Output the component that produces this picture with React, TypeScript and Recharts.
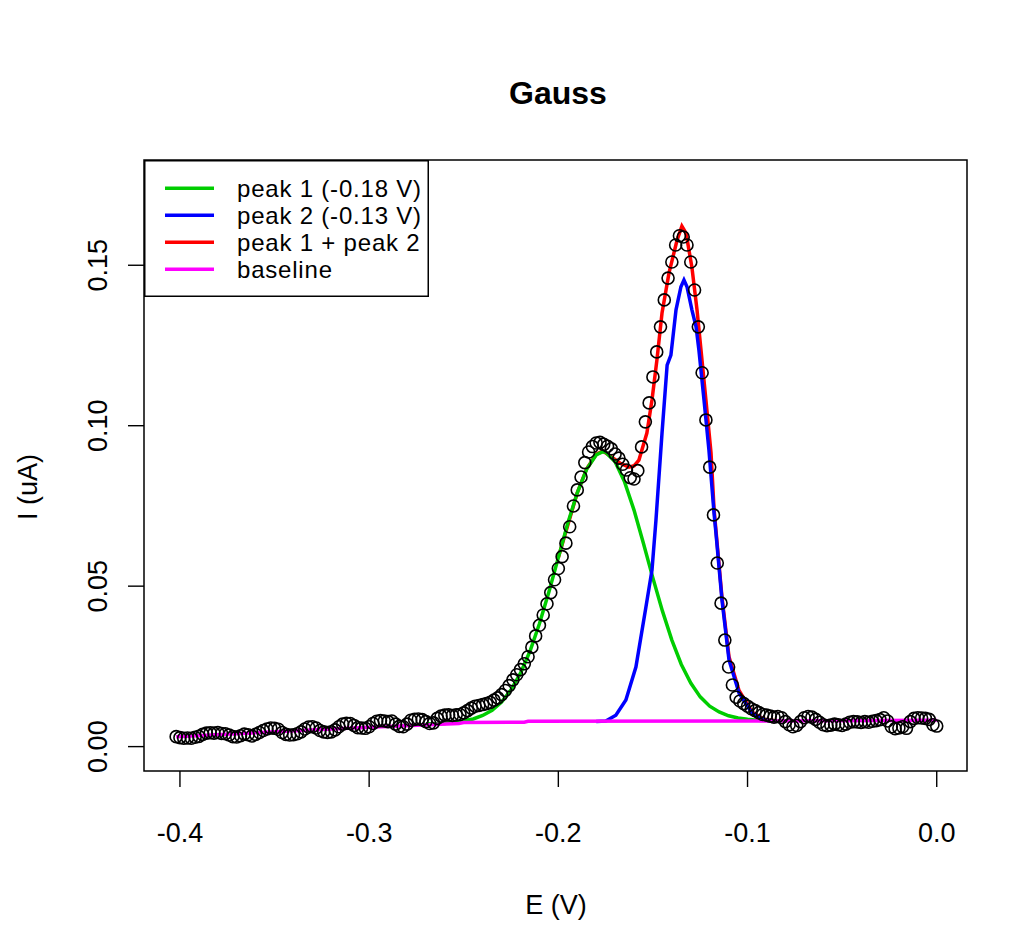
import React from "react";
import {
  ComposedChart,
  Scatter,
  Line,
  XAxis,
  YAxis,
  Legend,
  ReferenceArea,
} from "recharts";

// measured potentials (V), one point every 2 mV
const E_OBS = [
  -0.402, -0.4, -0.398, -0.396, -0.394, -0.392, -0.39, -0.388, -0.386, -0.384,
  -0.382, -0.38, -0.378, -0.376, -0.374, -0.372, -0.37, -0.368, -0.366, -0.364,
  -0.362, -0.36, -0.358, -0.356, -0.354, -0.352, -0.35, -0.348, -0.346, -0.344,
  -0.342, -0.34, -0.338, -0.336, -0.334, -0.332, -0.33, -0.328, -0.326, -0.324,
  -0.322, -0.32, -0.318, -0.316, -0.314, -0.312, -0.31, -0.308, -0.306, -0.304,
  -0.302, -0.3, -0.298, -0.296, -0.294, -0.292, -0.29, -0.288, -0.286, -0.284,
  -0.282, -0.28, -0.278, -0.276, -0.274, -0.272, -0.27, -0.268, -0.266, -0.264,
  -0.262, -0.26, -0.258, -0.256, -0.254, -0.252, -0.25, -0.248, -0.246, -0.244,
  -0.242, -0.24, -0.238, -0.236, -0.234, -0.232, -0.23, -0.228, -0.226, -0.224,
  -0.222, -0.22, -0.218, -0.216, -0.214, -0.212, -0.21, -0.208, -0.206, -0.204,
  -0.202, -0.2, -0.198, -0.196, -0.194, -0.192, -0.19, -0.188, -0.186, -0.184,
  -0.182, -0.18, -0.178, -0.176, -0.174, -0.172, -0.17, -0.168, -0.166, -0.164,
  -0.162, -0.16, -0.158, -0.156, -0.154, -0.152, -0.15, -0.148, -0.146, -0.144,
  -0.142, -0.14, -0.138, -0.136, -0.134, -0.132, -0.13, -0.128, -0.126, -0.124,
  -0.122, -0.12, -0.118, -0.116, -0.114, -0.112, -0.11, -0.108, -0.106, -0.104,
  -0.102, -0.1, -0.098, -0.096, -0.094, -0.092, -0.09, -0.088, -0.086, -0.084,
  -0.082, -0.08, -0.078, -0.076, -0.074, -0.072, -0.07, -0.068, -0.066, -0.064,
  -0.062, -0.06, -0.058, -0.056, -0.054, -0.052, -0.05, -0.048, -0.046, -0.044,
  -0.042, -0.04, -0.038, -0.036, -0.034, -0.032, -0.03, -0.028, -0.026, -0.024,
  -0.022, -0.02, -0.018, -0.016, -0.014, -0.012, -0.01, -0.008, -0.006, -0.004,
  -0.002, 0.0,
];

// measured current (uA)
const I_OBS = [
  0.0031, 0.0028, 0.0026, 0.0027, 0.0026, 0.0029, 0.0032, 0.0038, 0.0042, 0.0043,
  0.0042, 0.0044, 0.0041, 0.004, 0.0036, 0.0031, 0.003, 0.0034, 0.0039, 0.0037,
  0.0033, 0.0038, 0.0044, 0.005, 0.0055, 0.0058, 0.0057, 0.0054, 0.0044, 0.0038,
  0.0036, 0.0037, 0.004, 0.0046, 0.0055, 0.0061, 0.0062, 0.0058, 0.005, 0.0046,
  0.0044, 0.0046, 0.0052, 0.0062, 0.007, 0.0073, 0.0072, 0.0066, 0.0059, 0.0058,
  0.0057, 0.0062, 0.0072, 0.0079, 0.0081, 0.008, 0.0078, 0.008, 0.007, 0.0063,
  0.0062, 0.007, 0.0082, 0.0085, 0.0086, 0.0084, 0.0078, 0.0072, 0.0074, 0.0088,
  0.0095, 0.0098, 0.0099, 0.0097, 0.0099, 0.01, 0.0105, 0.0112, 0.012, 0.0126,
  0.0128, 0.0131, 0.0134, 0.0138, 0.0145, 0.0152, 0.0162, 0.0175, 0.019, 0.0208,
  0.0224, 0.024, 0.0258, 0.028, 0.031, 0.0345, 0.0378, 0.041, 0.0445, 0.048,
  0.052, 0.0555, 0.0592, 0.0634, 0.0685, 0.075, 0.08, 0.084, 0.0885, 0.0918,
  0.0935, 0.0946, 0.0948, 0.0942, 0.0936, 0.0928, 0.0912, 0.0899, 0.088, 0.0862,
  0.0838, 0.0834, 0.086, 0.0934, 0.1012, 0.1071, 0.1152, 0.123, 0.1308, 0.1392,
  0.146, 0.151, 0.1563, 0.1592, 0.1588, 0.1563, 0.151, 0.1423, 0.1308, 0.1165,
  0.1018, 0.0871, 0.0722, 0.0572, 0.0447, 0.0332, 0.0248, 0.0192, 0.0154, 0.0142,
  0.0134, 0.0126, 0.0118, 0.0112, 0.0106, 0.01, 0.0098, 0.0095, 0.0092, 0.0094,
  0.009, 0.0078, 0.0068, 0.0062, 0.0066, 0.0078, 0.009, 0.0094, 0.0092, 0.0085,
  0.0076, 0.0068, 0.0065, 0.0067, 0.007, 0.0068, 0.0066, 0.007, 0.0076, 0.0078,
  0.0077, 0.0075, 0.0078, 0.0076, 0.0079, 0.0081, 0.0084, 0.009, 0.008, 0.0062,
  0.0056, 0.0058, 0.0062, 0.0057, 0.0078, 0.0088, 0.009, 0.0089, 0.0088, 0.0085,
  0.0068, 0.0064,
];

// fitted peak 1 (on baseline)
const PEAK1_E = [
  -0.27, -0.26, -0.25, -0.245, -0.24, -0.235, -0.23, -0.225, -0.22, -0.215,
  -0.21, -0.205, -0.2, -0.195, -0.19, -0.185, -0.18, -0.1765, -0.175, -0.17,
  -0.165, -0.16, -0.155, -0.15, -0.145, -0.14, -0.135, -0.13, -0.125, -0.12,
  -0.115, -0.11, -0.105, -0.1, -0.095, -0.09, -0.08,
];
const PEAK1_I = [
  0.0071, 0.0072, 0.0081, 0.0086, 0.0097, 0.0113, 0.0139, 0.0177, 0.0229, 0.0297,
  0.0383, 0.0482, 0.0589, 0.0696, 0.0791, 0.0865, 0.0909, 0.0919, 0.0917, 0.0888,
  0.0825, 0.0737, 0.0633, 0.0525, 0.0423, 0.0332, 0.0256, 0.0198, 0.0155, 0.0126,
  0.0108, 0.0096, 0.0089, 0.0085, 0.0082, 0.0081, 0.008,
];

// fitted peak 2 (on baseline)
const PEAK2_E = [
  -0.18, -0.1749, -0.1696, -0.1643, -0.159, -0.1537, -0.1505, -0.1484, -0.1452,
  -0.1425, -0.1405, -0.1378, -0.1352, -0.1336, -0.132, -0.1294, -0.1272, -0.1257,
  -0.123, -0.1204, -0.1177, -0.1167, -0.1135, -0.1098, -0.1045, -0.0976, -0.0913,
  -0.085,
];
const PEAK2_I = [
  0.0078, 0.008, 0.0098, 0.0145, 0.0248, 0.0435, 0.055, 0.0706, 0.0977,
  0.1189, 0.122, 0.1361, 0.1433, 0.1454, 0.1433, 0.1361, 0.1308, 0.1236,
  0.108, 0.0924, 0.0728, 0.0666, 0.0457, 0.027, 0.0167, 0.0104, 0.0083,
  0.008,
];

// peak 1 + peak 2
const SUM_E = [
  -0.2, -0.19, -0.185, -0.18, -0.1765, -0.1717, -0.167, -0.1627, -0.16, -0.1574,
  -0.1532, -0.1505, -0.1479, -0.1452, -0.1415, -0.1373, -0.1347, -0.1325, -0.1294,
  -0.1267, -0.1246, -0.122, -0.1193, -0.1177, -0.1135, -0.1098, -0.1045, -0.0976,
  -0.0913, -0.085,
];
const SUM_I = [
  0.0589, 0.0791, 0.0866, 0.0911, 0.0921, 0.0902, 0.0882, 0.0871, 0.0875, 0.0893,
  0.0977, 0.108, 0.1205, 0.1351, 0.1476, 0.1577, 0.1622, 0.16, 0.1494,
  0.1361, 0.1236, 0.108, 0.0915, 0.074, 0.0465, 0.028, 0.0175, 0.0108,
  0.0085, 0.0081,
];

// baseline
const BASE_E = [-0.402, -0.35, -0.3, -0.2526, -0.25, -0.218, -0.216, -0.1, 0.0];
const BASE_I = [0.0031, 0.0046, 0.006, 0.0072, 0.0075, 0.0076, 0.0079, 0.008, 0.0082];

const X_TICKS = [-0.4, -0.3, -0.2, -0.1, 0];
const Y_TICKS = [0, 0.05, 0.1, 0.15];

const GREEN = "#00CD00";
const BLUE = "#0000FF";
const RED = "#FF0000";
const MAGENTA = "#FF00FF";
const FONT = '"Liberation Sans", Arial, sans-serif';

const LEGEND_ITEMS = [
  { label: "peak 1 (-0.18 V)", color: GREEN },
  { label: "peak 2 (-0.13 V)", color: BLUE },
  { label: "peak 1 + peak 2", color: RED },
  { label: "baseline", color: MAGENTA },
];

const zip = (es: number[], is: number[]) => es.map((e, k) => ({ e, i: is[k] }));

const obsData = zip(E_OBS, I_OBS);
const peak1Data = zip(PEAK1_E, PEAK1_I);
const peak2Data = zip(PEAK2_E, PEAK2_I);
const sumData = zip(SUM_E, SUM_I);
const baseData = zip(BASE_E, BASE_I);

const XTick = (props: any) => (
  <text x={props.x} y={842} textAnchor="middle" fontSize={27} fontFamily={FONT} fill="#000">
    {Number(props.payload.value).toFixed(1)}
  </text>
);

const YTick = (props: any) => (
  <text
    x={107}
    y={props.y}
    transform={`rotate(-90 107 ${props.y})`}
    textAnchor="middle"
    fontSize={27}
    fontFamily={FONT}
    fill="#000"
  >
    {Number(props.payload.value).toFixed(2)}
  </text>
);

const Ring = (props: any) => (
  <circle cx={props.cx} cy={props.cy} r={6} fill="none" stroke="#000" strokeWidth={1.6} />
);

function LegendBox() {
  return (
    <svg width={285} height={137} style={{ display: "block" }}>
      <rect x={0.75} y={0.75} width={283.5} height={135.5} fill="#fff" stroke="#000" strokeWidth={1.5} />
      {LEGEND_ITEMS.map((it, k) => {
        const y = 28.3 + k * 27;
        return (
          <g key={it.label}>
            <line x1={21} x2={70} y1={y} y2={y} stroke={it.color} strokeWidth={3.5} />
            <text x={93} y={y + 8.8} fontSize={24} letterSpacing={0.8} fontFamily={FONT} fill="#000">
              {it.label}
            </text>
          </g>
        );
      })}
    </svg>
  );
}

export default function App() {
  return (
    <div style={{ position: "absolute", left: 0, top: 0, width: 1025, height: 946, background: "#fff" }}>
      <ComposedChart
        width={1025}
        height={946}
        margin={{ top: 160, right: 58, bottom: 115, left: 64 }}
      >
        <XAxis
          dataKey="e"
          type="number"
          domain={[-0.419, 0.016]}
          ticks={X_TICKS}
          allowDataOverflow
          height={60}
          axisLine={false}
          tickLine={{ stroke: "#000", strokeWidth: 1.4 }}
          tickSize={16}
          tick={<XTick />}
        />
        <YAxis
          dataKey="i"
          type="number"
          domain={[-0.0076, 0.1828]}
          ticks={Y_TICKS}
          allowDataOverflow
          width={80}
          axisLine={false}
          tickLine={{ stroke: "#000", strokeWidth: 1.4 }}
          tickSize={16}
          tick={<YTick />}
        />
        <ReferenceArea
          x1={-0.419}
          x2={0.016}
          y1={-0.0076}
          y2={0.1828}
          fill="none"
          stroke="#000"
          strokeWidth={1.5}
          fillOpacity={0}
        />
        <Scatter data={obsData} dataKey="i" shape={<Ring />} isAnimationActive={false} />
        <Line data={sumData} dataKey="i" type="linear" stroke={RED} strokeWidth={3.5} dot={false} isAnimationActive={false} />
        <Line data={peak1Data} dataKey="i" type="linear" stroke={GREEN} strokeWidth={3.5} dot={false} isAnimationActive={false} />
        <Line data={peak2Data} dataKey="i" type="linear" stroke={BLUE} strokeWidth={3.5} dot={false} isAnimationActive={false} />
        <Line data={baseData} dataKey="i" type="linear" stroke={MAGENTA} strokeWidth={3.5} dot={false} isAnimationActive={false} />
        <Legend
          layout="vertical"
          align="center"
          verticalAlign="middle"
          wrapperStyle={{ left: 144, top: 160, width: 285, height: 137 }}
          content={() => <LegendBox />}
        />
      </ComposedChart>
      <svg
        width={1025}
        height={946}
        style={{ position: "absolute", left: 0, top: 0, pointerEvents: "none" }}
      >
        <text x={558} y={104} textAnchor="middle" fontSize={32} fontWeight="bold" fontFamily={FONT}>
          Gauss
        </text>
        <text x={556} y={914} textAnchor="middle" fontSize={27} fontFamily={FONT}>
          E (V)
        </text>
        <text x={37} y={487} transform="rotate(-90 37 487)" textAnchor="middle" fontSize={27} fontFamily={FONT}>
          I (uA)
        </text>
      </svg>
    </div>
  );
}
